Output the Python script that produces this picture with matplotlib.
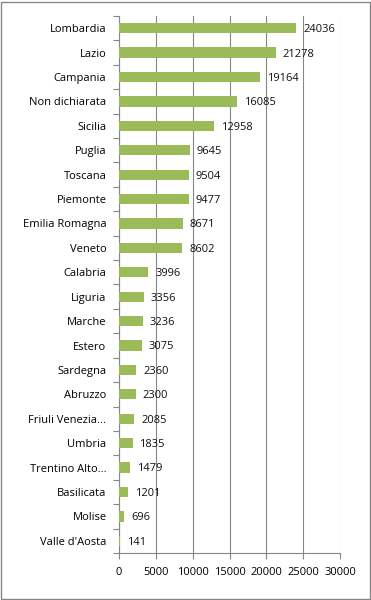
import matplotlib.pyplot as plt

regions = ['Lombardia', 'Lazio', 'Campania', 'Non dichiarata', 'Sicilia', 'Puglia',
           'Toscana', 'Piemonte', 'Emilia Romagna', 'Veneto', 'Calabria', 'Liguria',
           'Marche', 'Estero', 'Sardegna', 'Abruzzo', 'Friuli Venezia...', 'Umbria',
           'Trentino Alto...', 'Basilicata', 'Molise', "Valle d'Aosta"]
values = [24036, 21278, 19164, 16085, 12958, 9645, 9504, 9477, 8671, 8602, 3996, 3356,
          3236, 3075, 2360, 2300, 2085, 1835, 1479, 1201, 696, 141]
xticks = [0, 5000, 10000, 15000, 20000, 25000, 30000]

plt.rcParams['font.family'] = ['Open Sans', 'DejaVu Sans']
plt.rcParams['font.size'] = 8

fig = plt.figure(figsize=(3.71, 6), dpi=100)
ax = fig.add_axes([119 / 371, 1 - 553 / 600, 221 / 371, 537 / 600])

y = list(range(len(regions)))[::-1]
ax.barh(y, values, height=0.42, color='#9BBB59', zorder=3)
for yi, v in zip(y, values):
    ax.annotate(str(v), (v, yi), xytext=(5, -1), textcoords='offset points',
                va='center', ha='left', color='#111111')

ax.set_xlim(0, 30000)
ax.set_ylim(-0.5, len(regions) - 0.5)
ax.set_xticks(xticks)
ax.set_xticklabels([str(t) for t in xticks])
ax.set_yticks(y)
ax.set_yticklabels(regions)
ax.set_yticks([i + 0.5 for i in range(-1, len(regions))], minor=True)
ax.tick_params(axis='y', which='major', length=0, pad=9)
ax.tick_params(axis='y', which='minor', length=4, color='#868686', width=0.8)
ax.tick_params(axis='x', length=4, color='#868686', width=0.8, pad=6)
ax.grid(True, axis='x', color='#868686', linewidth=0.8, zorder=0)
for s in ['top', 'right']:
    ax.spines[s].set_visible(False)
for s in ['left', 'bottom']:
    ax.spines[s].set_color('#868686')
    ax.spines[s].set_linewidth(0.8)

fig.patches.append(plt.Rectangle((0.002, 0.002), 0.995, 0.995, transform=fig.transFigure,
                                 fill=False, edgecolor='#868686', linewidth=1))
plt.savefig('out.png', dpi=100)
